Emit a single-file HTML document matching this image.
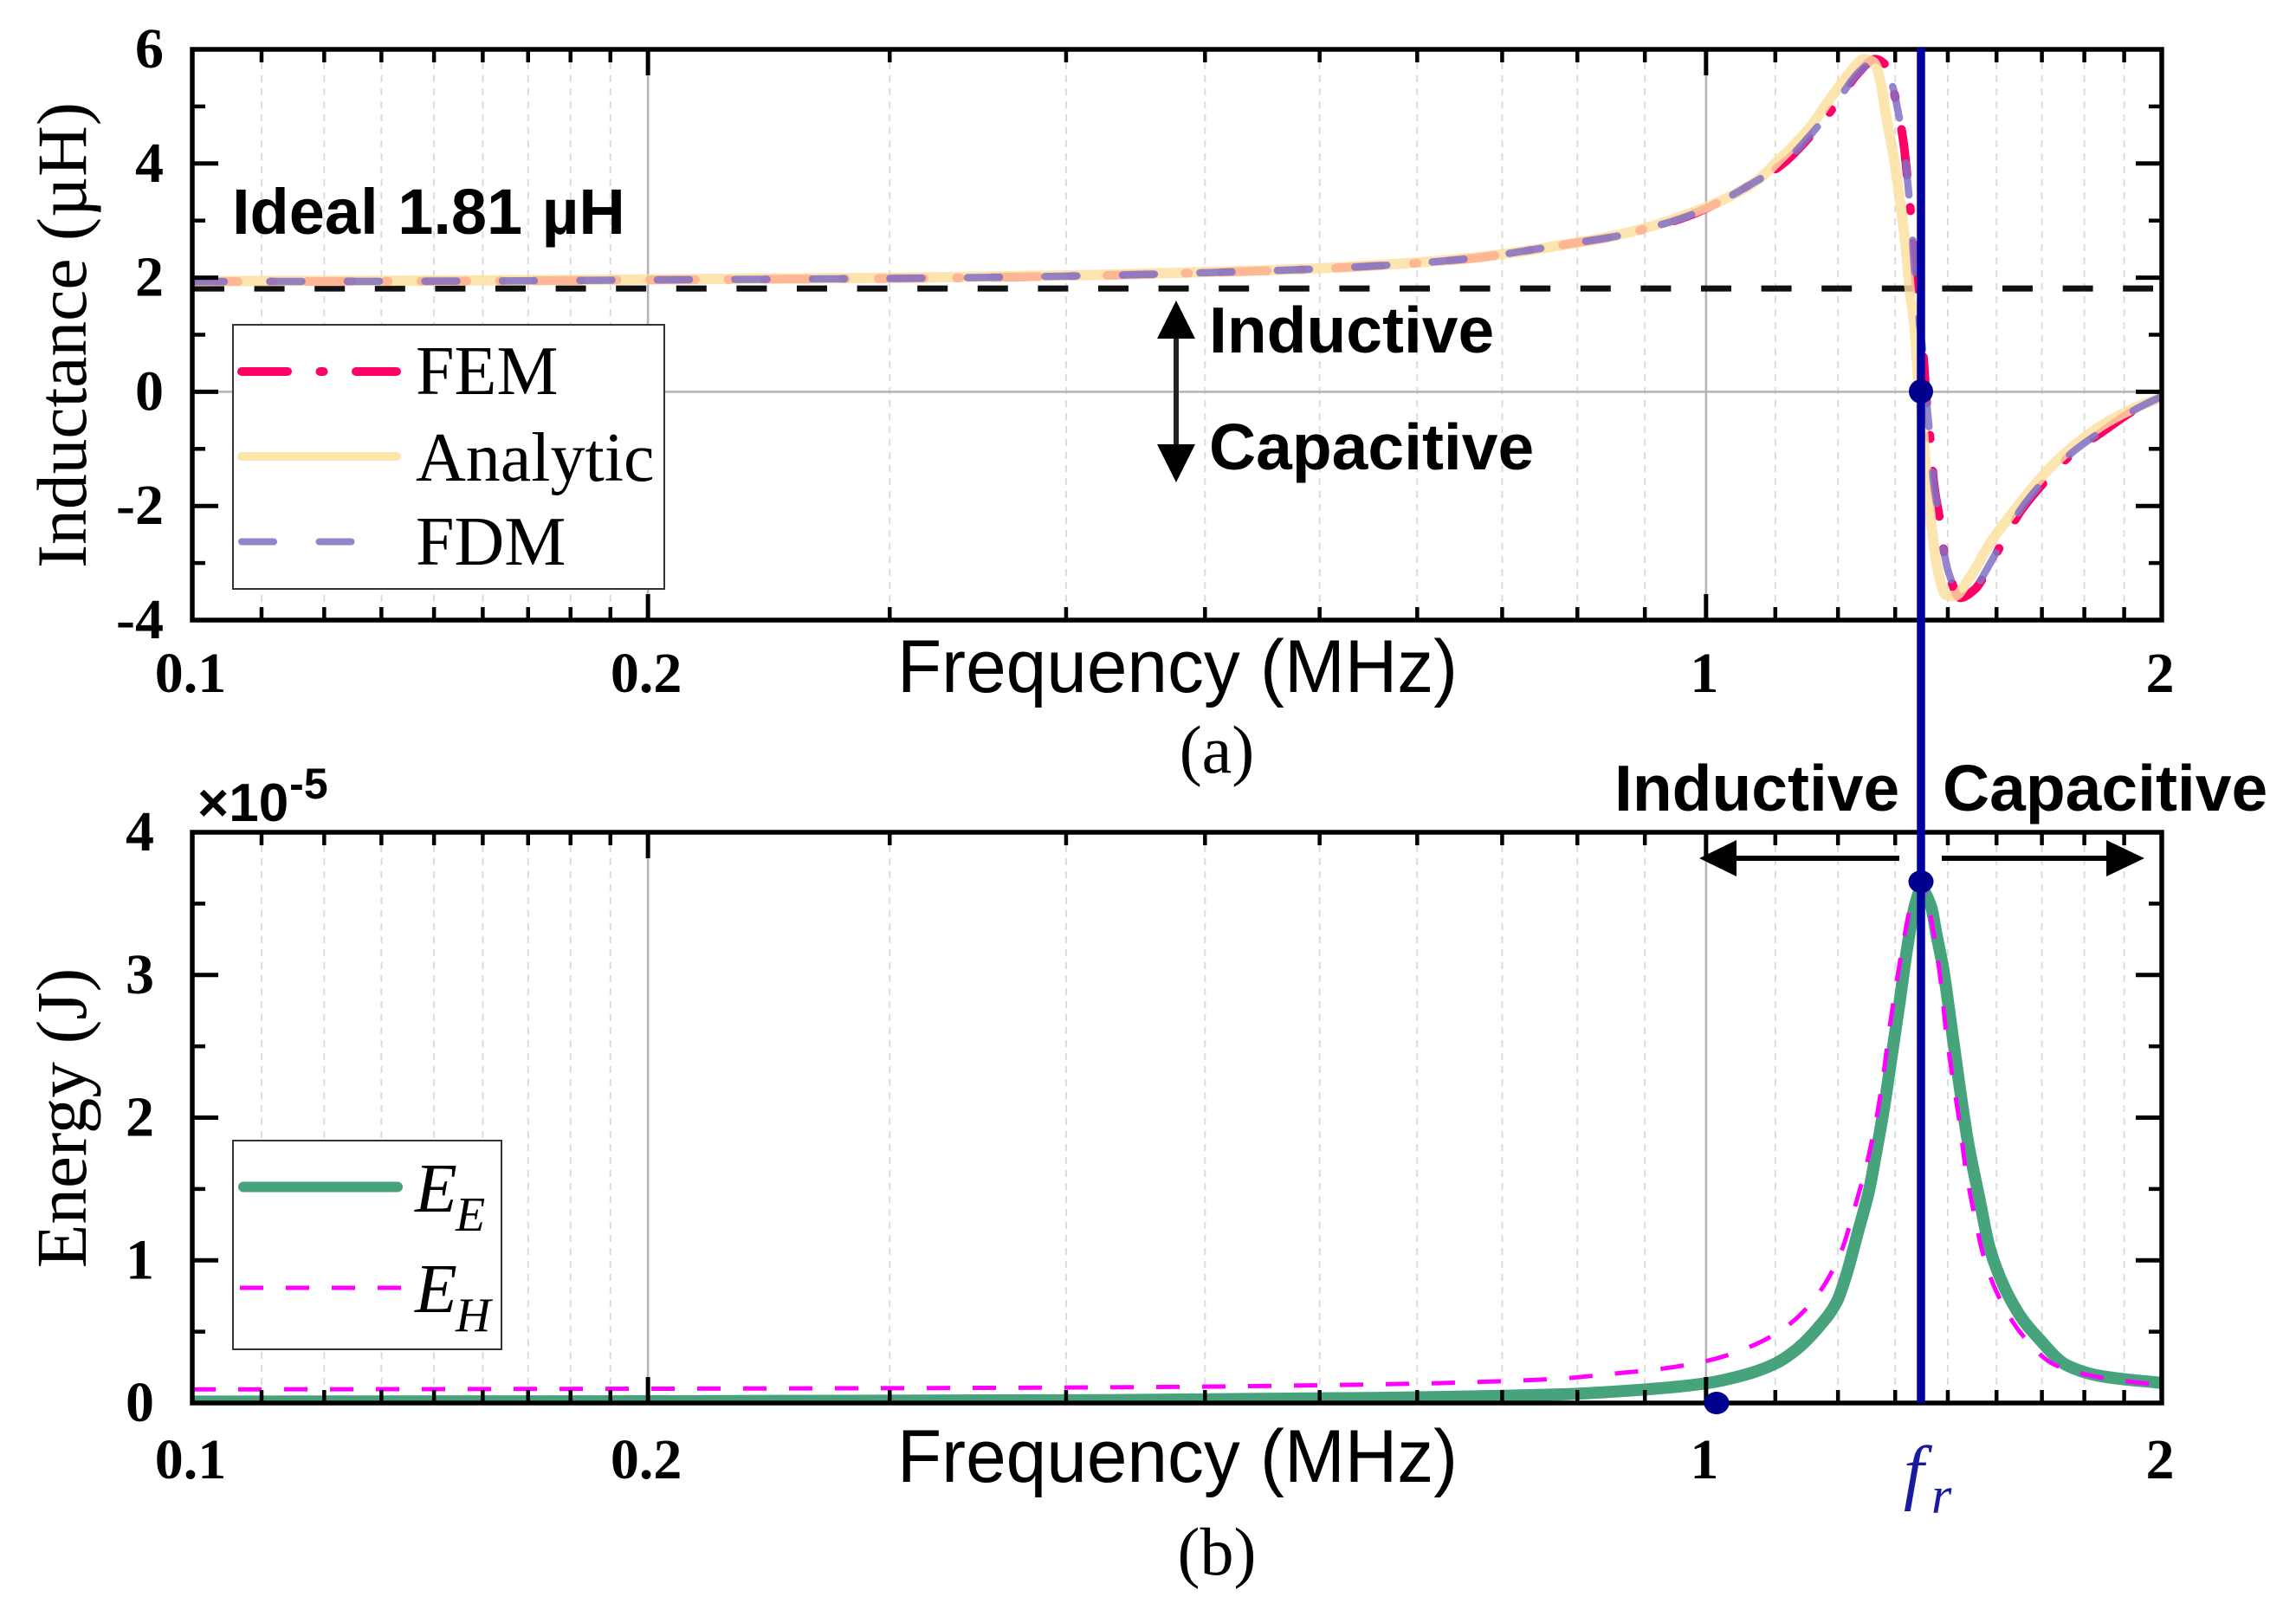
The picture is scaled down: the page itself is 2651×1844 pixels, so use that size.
<!DOCTYPE html>
<html lang="en">
<head>
<meta charset="utf-8">
<title>Inductance and energy versus frequency</title>
<style>
html,body{margin:0;padding:0;background:#fff;}
svg{display:block;}
.serif{font-family:"Liberation Serif",serif;}
.sans{font-family:"Liberation Sans",sans-serif;}
.tick{font-family:"Liberation Serif",serif;font-weight:700;font-size:66px;fill:#000;}
.ital{font-family:"Liberation Serif",serif;font-style:italic;}
</style>
</head>
<body>
<svg id="fig" xmlns="http://www.w3.org/2000/svg" width="2651" height="1844" viewBox="0 0 2651 1844">
  <defs>
    <clipPath id="clipA"><rect x="222" y="57" width="2274" height="659"/></clipPath>
    <clipPath id="clipB"><rect x="222" y="961" width="2274" height="659"/></clipPath>
  </defs>
  <rect x="0" y="0" width="2651" height="1844" fill="#ffffff"/>
  <g id="gridLayer"></g>
  <line id="idealLine" stroke="#111" stroke-width="7" stroke-dasharray="35 34.6"/>
  <g id="curvesA" clip-path="url(#clipA)"></g>
  <g id="curvesB" clip-path="url(#clipB)"></g>
  <g id="frameLayer"></g>
  <g id="labelLayer"></g>

  <text class="serif" font-size="81.5" text-anchor="middle" transform="translate(99 387) rotate(-90)">Inductance (µH)</text>
  <text class="serif" font-size="83" text-anchor="middle" transform="translate(99 1291) rotate(-90)">Energy (J)</text>
  <text class="sans" font-size="86" x="1036" y="799" textLength="647" lengthAdjust="spacingAndGlyphs">Frequency (MHz)</text>
  <text class="sans" font-size="86" x="1036" y="1711" textLength="647" lengthAdjust="spacingAndGlyphs">Frequency (MHz)</text>
  <text class="serif" font-size="78" text-anchor="middle" x="1405" y="892">(a)</text>
  <text class="serif" font-size="78" text-anchor="middle" x="1405" y="1818">(b)</text>

  <text class="sans" font-weight="700" font-size="74" x="268" y="270" word-spacing="2">Ideal 1.81 µH</text>

  <g fill="#000">
    <rect x="1355" y="385" width="6" height="134" fill="#222"/>
    <polygon points="1358,347 1336,391 1380,391"/>
    <polygon points="1358,557 1336,513 1380,513"/>
  </g>
  <text class="sans" font-weight="700" font-size="75" x="1396" y="407">Inductive</text>
  <text class="sans" font-weight="700" font-size="75" x="1396" y="542">Capacitive</text>

  <text class="sans" font-weight="700" font-size="75" x="1864" y="936">Inductive</text>
  <text class="sans" font-weight="700" font-size="75" x="2243" y="936">Capacitive</text>
  <g fill="#000">
    <rect x="2000" y="988" width="193" height="6"/>
    <polygon points="1962,991 2005,970 2005,1012"/>
  </g>
  <g fill="#000">
    <rect x="2242" y="988" width="195" height="6"/>
    <polygon points="2476,991 2432,970 2432,1012"/>
  </g>
  <text class="sans" font-weight="700" font-size="62" x="228" y="948">×10<tspan font-size="50" dy="-26" dx="1">-5</tspan></text>

  <line x1="2218" y1="55" x2="2218" y2="1620" stroke="#0000a0" stroke-width="9.5"/>
  <circle cx="2218" cy="452" r="14" fill="#00008f"/>
  <ellipse cx="2218" cy="1018" rx="14.5" ry="13" fill="#00008f"/>
  <ellipse cx="1982" cy="1620" rx="14.5" ry="13" fill="#00008f"/>

  <g fill="#1a1aa0">
    <text class="ital" font-size="84" x="2198" y="1727">f</text>
    <text class="ital" font-size="60" x="2230" y="1747">r</text>
  </g>

  <g>
    <rect x="269" y="375" width="498" height="305" fill="#fff" stroke="#333" stroke-width="2"/>
    <g>
      <line x1="279" y1="429" x2="458" y2="429" stroke="#ff0066" stroke-width="10" stroke-linecap="round" stroke-dasharray="53 37.5 4 37.5"/>
      <text class="serif" font-size="80" x="480" y="455">FEM</text>
    </g>
    <g>
      <line x1="279" y1="527" x2="458" y2="527" stroke="#fce4ab" stroke-width="10" stroke-linecap="round"/>
      <text class="serif" font-size="80" x="480" y="555">Analytic</text>
    </g>
    <g>
      <line x1="279" y1="625.5" x2="458" y2="625.5" stroke="#8f86cc" stroke-width="8" stroke-linecap="round" stroke-dasharray="37 52.5"/>
      <text class="serif" font-size="80" x="480" y="652">FDM</text>
    </g>
  </g>

  <g>
    <rect x="269" y="1317" width="310" height="241" fill="#fff" stroke="#333" stroke-width="2"/>
    <g>
      <line x1="281" y1="1370.5" x2="459" y2="1370.5" stroke="#46a37c" stroke-width="12" stroke-linecap="round"/>
      <text class="ital" font-size="80" x="479" y="1399">E</text>
      <text class="ital" font-size="56" x="526" y="1421">E</text>
    </g>
    <g>
      <line x1="277" y1="1487" x2="463" y2="1487" stroke="#ff00ff" stroke-width="5" stroke-dasharray="27 26"/>
      <text class="ital" font-size="80" x="479" y="1515">E</text>
      <text class="ital" font-size="56" x="526" y="1537">H</text>
    </g>
  </g>
</svg>

<script>
/* ---------- axis data ---------- */
var majorFreqs = [0.2, 1];
var minorFreqDecades = [[0.1, 0.2], [0.2, 1], [1, 2]];
var xTickLabels = ["0.1", "0.2", "1", "2"];
var xTickValues = [0.1, 0.2, 1, 2];
var yTicksA = [-4, -2, 0, 2, 4, 6];
var yMinorA = [-3, -1, 1, 3, 5];
var yTicksB = [0, 1, 2, 3, 4];
var yMinorB = [0.5, 1.5, 2.5, 3.5];
var idealInductance = [1.81];

/* ---------- panel (a) series: frequency in MHz, inductance in uH ---------- */
var analyticFreq = [0.1, 0.15, 0.2, 0.3, 0.4, 0.47, 0.55, 0.69, 0.799, 0.877, 1, 1.079, 1.119, 1.171, 1.208, 1.245, 1.272, 1.291, 1.305, 1.315, 1.33, 1.342, 1.354, 1.363, 1.374, 1.381, 1.39, 1.399, 1.412, 1.421, 1.44, 1.459, 1.491, 1.545, 1.613, 1.686, 1.762, 1.841, 1.924, 2];
var analyticL = [1.94, 1.95, 1.97, 2.0, 2.05, 2.1, 2.16, 2.33, 2.56, 2.755, 3.235, 3.69, 4.08, 4.63, 5.14, 5.6, 5.83, 5.77, 5.39, 4.84, 4.13, 3.42, 2.61, 1.8, 1.05, 0.2, -0.6, -1.53, -2.55, -3.05, -3.56, -3.58, -3.28, -2.6, -1.94, -1.34, -0.88, -0.53, -0.27, -0.1];

var femFreq = [0.1, 0.15, 0.2, 0.3, 0.4, 0.47, 0.55, 0.69, 0.815, 0.87, 0.916, 0.969, 1.016, 1.079, 1.122, 1.179, 1.216, 1.262, 1.293, 1.315, 1.327, 1.339, 1.351, 1.36, 1.367, 1.372, 1.377, 1.385, 1.392, 1.398, 1.402, 1.408, 1.414, 1.427, 1.436, 1.446, 1.472, 1.505, 1.541, 1.572, 1.614, 1.672, 1.746, 1.828, 1.924, 2];
var femL = [1.93, 1.94, 1.96, 1.99, 2.04, 2.09, 2.15, 2.32, 2.6, 2.72, 2.87, 3.06, 3.3, 3.69, 3.98, 4.56, 5.01, 5.6, 5.83, 5.72, 5.39, 4.92, 4.33, 3.57, 2.96, 2.31, 1.8, 1.1, 0.6, -0.12, -0.47, -0.98, -1.59, -2.25, -2.8, -3.16, -3.61, -3.46, -3.03, -2.6, -2.09, -1.59, -1.08, -0.7, -0.3, -0.08];

var fdmFreq = [0.1, 0.15, 0.2, 0.3, 0.4, 0.47, 0.55, 0.69, 0.815, 0.87, 0.916, 0.969, 1.016, 1.079, 1.122, 1.179, 1.216, 1.262, 1.293, 1.315, 1.327, 1.339, 1.351, 1.36, 1.367, 1.372, 1.377, 1.385, 1.392, 1.398, 1.402, 1.408, 1.414, 1.427, 1.436, 1.446, 1.472, 1.505, 1.541, 1.572, 1.614, 1.672, 1.746, 1.828, 1.924, 2];
var fdmL = [1.93, 1.94, 1.96, 1.99, 2.04, 2.09, 2.15, 2.32, 2.6, 2.72, 2.87, 3.06, 3.3, 3.69, 3.98, 4.58, 5.03, 5.6, 5.8, 5.7, 5.39, 4.92, 4.33, 3.57, 2.96, 2.31, 1.8, 1.1, 0.6, -0.12, -0.47, -0.98, -1.59, -2.25, -2.8, -3.16, -3.58, -3.43, -3.0, -2.58, -2.06, -1.56, -1.06, -0.68, -0.3, -0.08];

/* ---------- panel (b) series: frequency in MHz, energy in 1e-5 J ---------- */
var electricFreq = [0.1, 0.2, 0.4, 0.6, 0.799, 0.912, 0.997, 1.063, 1.111, 1.146, 1.187, 1.22, 1.238, 1.26, 1.282, 1.296, 1.31, 1.327, 1.342, 1.357, 1.375, 1.387, 1.408, 1.42, 1.434, 1.45, 1.47, 1.49, 1.515, 1.54, 1.576, 1.62, 1.654, 1.73, 1.82, 2];
var electricE = [0.01, 0.012, 0.02, 0.035, 0.06, 0.095, 0.136, 0.2, 0.276, 0.37, 0.533, 0.71, 0.9, 1.2, 1.5, 1.77, 2.05, 2.45, 2.8, 3.17, 3.5, 3.6, 3.48, 3.28, 3.05, 2.69, 2.23, 1.82, 1.44, 1.08, 0.8, 0.58, 0.467, 0.266, 0.19, 0.14];

var magneticFreq = [0.1, 0.2, 0.4, 0.6, 0.799, 0.858, 0.9386, 1, 1.067, 1.133, 1.188, 1.229, 1.254, 1.277, 1.296, 1.31, 1.322, 1.336, 1.351, 1.368, 1.387, 1.399, 1.417, 1.43, 1.44, 1.455, 1.47, 1.484, 1.503, 1.526, 1.56, 1.617, 1.7, 1.82, 2];
var magneticE = [0.095, 0.1, 0.11, 0.13, 0.17, 0.2, 0.243, 0.294, 0.39, 0.545, 0.775, 1.07, 1.375, 1.68, 2.0, 2.31, 2.63, 2.945, 3.25, 3.52, 3.65, 3.53, 3.23, 2.93, 2.62, 2.28, 1.975, 1.645, 1.335, 1.02, 0.75, 0.48, 0.267, 0.18, 0.124];

/* ---------- axis functions ---------- */
var X0 = 222, X1 = 2496;
function xScale(f) { return X0 + (Math.log10(f) - Math.log10(0.1)) / (Math.log10(2) - Math.log10(0.1)) * (X1 - X0); }
function yScaleA(v) { return 716 - (v + 4) / 10 * 659; }
function yScaleB(v) { return 1620 - v / 4 * 659; }

var NS = 'http://www.w3.org/2000/svg';
function mk(tag, attrs, parent) {
  var el = document.createElementNS(NS, tag);
  for (var k in attrs) { el.setAttribute(k, attrs[k]); }
  parent.appendChild(el);
  return el;
}
/* monotone cubic interpolation in pixel space */
function smoothPath(xs, ys, yFn) {
  var n = xs.length, px = [], py = [], s = [], m = [], i;
  for (i = 0; i < n; i++) { px.push(xScale(xs[i])); py.push(yFn(ys[i])); }
  for (i = 0; i < n - 1; i++) { s.push((py[i + 1] - py[i]) / (px[i + 1] - px[i])); }
  m.push(s[0]);
  for (i = 1; i < n - 1; i++) {
    if (s[i - 1] * s[i] <= 0) { m.push(0); continue; }
    var h0 = px[i] - px[i - 1], h1 = px[i + 1] - px[i];
    var w1 = 2 * h1 + h0, w2 = h1 + 2 * h0;
    m.push((w1 + w2) / (w1 / s[i - 1] + w2 / s[i]));
  }
  m.push(s[n - 2]);
  var d = 'M' + px[0].toFixed(1) + ' ' + py[0].toFixed(1);
  for (i = 0; i < n - 1; i++) {
    var h = (px[i + 1] - px[i]) / 3;
    d += 'C' + (px[i] + h).toFixed(1) + ' ' + (py[i] + m[i] * h).toFixed(1) + ' ' +
         (px[i + 1] - h).toFixed(1) + ' ' + (py[i + 1] - m[i + 1] * h).toFixed(1) + ' ' +
         px[i + 1].toFixed(1) + ' ' + py[i + 1].toFixed(1);
  }
  return d;
}

var gridLayer = document.getElementById('gridLayer');
var frameLayer = document.getElementById('frameLayer');
var labelLayer = document.getElementById('labelLayer');
var curvesA = document.getElementById('curvesA');
var curvesB = document.getElementById('curvesB');

var panels = [
  { top: 57, bottom: 716, yFn: yScaleA, major: yTicksA, minor: yMinorA, labelRight: 189, labelBase: 799 },
  { top: 961, bottom: 1620, yFn: yScaleB, major: yTicksB, minor: yMinorB, labelRight: 178, labelBase: 1707 }
];

/* minor frequencies: eight linear subdivisions (nine parts) in each interval */
var minorFreqs = [];
minorFreqDecades.forEach(function (r) {
  for (var k = 1; k < 9; k++) { minorFreqs.push(r[0] + (r[1] - r[0]) * k / 9); }
});

panels.forEach(function (pn) {
  minorFreqs.forEach(function (f) {
    var g = mk('line', { x1: xScale(f), x2: xScale(f), y1: pn.top, y2: pn.bottom, stroke: '#dcdcdc', 'stroke-width': 2, 'stroke-dasharray': '8 7' }, gridLayer);
    
    
    var t1 = mk('line', { x1: xScale(f), x2: xScale(f), y1: pn.top, y2: pn.top + 15, stroke: '#000', 'stroke-width': 4.5 }, frameLayer);
    
    
    var t2 = mk('line', { x1: xScale(f), x2: xScale(f), y1: pn.bottom, y2: pn.bottom - 15, stroke: '#000', 'stroke-width': 4.5 }, frameLayer);
    
    
  });
  majorFreqs.forEach(function (f) {
    var g = mk('line', { x1: xScale(f), x2: xScale(f), y1: pn.top, y2: pn.bottom, stroke: '#b4b4b4', 'stroke-width': 2.5 }, gridLayer);
    
    
    var t1 = mk('line', { x1: xScale(f), x2: xScale(f), y1: pn.top, y2: pn.top + 30, stroke: '#000', 'stroke-width': 5 }, frameLayer);
    
    
    var t2 = mk('line', { x1: xScale(f), x2: xScale(f), y1: pn.bottom, y2: pn.bottom - 30, stroke: '#000', 'stroke-width': 5 }, frameLayer);
    
    
  });
  pn.major.forEach(function (v) {
    var y = pn.yFn(v);
    var t1 = mk('line', { x1: X0, x2: X0 + 30, y1: y, y2: y, stroke: '#000', 'stroke-width': 5 }, frameLayer);
    
    
    var t2 = mk('line', { x1: X1, x2: X1 - 30, y1: y, y2: y, stroke: '#000', 'stroke-width': 5 }, frameLayer);
    
    
    var lb = mk('text', { x: pn.labelRight, y: y + 21, 'text-anchor': 'end', 'class': 'tick' }, labelLayer);
    lb.textContent = String(v);
    
    
  });
  pn.minor.forEach(function (v) {
    var y = pn.yFn(v);
    var t1 = mk('line', { x1: X0, x2: X0 + 15, y1: y, y2: y, stroke: '#000', 'stroke-width': 4.5 }, frameLayer);
    
    
    var t2 = mk('line', { x1: X1, x2: X1 - 15, y1: y, y2: y, stroke: '#000', 'stroke-width': 4.5 }, frameLayer);
    
    
  });
  xTickValues.forEach(function (f, i) {
    var lb = mk('text', { x: xScale(f) - 2, y: pn.labelBase, 'text-anchor': 'middle', 'class': 'tick' }, labelLayer);
    lb.textContent = xTickLabels[i];
    
    
  });
  var fr = mk('rect', { x: X0, y: pn.top, width: X1 - X0, height: pn.bottom - pn.top, fill: 'none', stroke: '#000', 'stroke-width': 5.5 }, frameLayer);
  
  
});

/* zero line in panel (a) */
var zeroLine = mk('line', { x1: X0, x2: X1, y1: yScaleA(0), y2: yScaleA(0), stroke: '#b4b4b4', 'stroke-width': 2.5 }, gridLayer);



/* ideal inductance reference */
var ideal = document.getElementById('idealLine');
ideal.setAttribute('x1', 224);
ideal.setAttribute('x2', 2486);
ideal.setAttribute('y1', yScaleA(idealInductance[0]));
ideal.setAttribute('y2', yScaleA(idealInductance[0]));

/* panel (a) curves */
var femPath = mk('path', { d: smoothPath(femFreq, femL, yScaleA), fill: 'none', stroke: '#ff0066', 'stroke-width': 10, 'stroke-linecap': 'round', 'stroke-linejoin': 'round', 'stroke-dasharray': '53 37.5 4 37.5' }, curvesA);


var analyticPath = mk('path', { d: smoothPath(analyticFreq, analyticL, yScaleA), fill: 'none', stroke: '#fcdf9f', 'stroke-opacity': 0.82, 'stroke-width': 12, 'stroke-linecap': 'round', 'stroke-linejoin': 'round' }, curvesA);


var fdmPath = mk('path', { d: smoothPath(fdmFreq, fdmL, yScaleA), fill: 'none', stroke: '#8070c6', 'stroke-opacity': 0.85, 'stroke-width': 8.5, 'stroke-linecap': 'round', 'stroke-linejoin': 'round', 'stroke-dasharray': '37 52.5' }, curvesA);



/* panel (b) curves */
var electricPath = mk('path', { d: smoothPath(electricFreq, electricE, yScaleB), fill: 'none', stroke: '#46a37c', 'stroke-width': 14, 'stroke-linejoin': 'round' }, curvesB);


var magneticPath = mk('path', { d: smoothPath(magneticFreq, magneticE, yScaleB), fill: 'none', stroke: '#ff00ff', 'stroke-width': 5, 'stroke-dasharray': '27 26' }, curvesB);


</script>
</body>
</html>
